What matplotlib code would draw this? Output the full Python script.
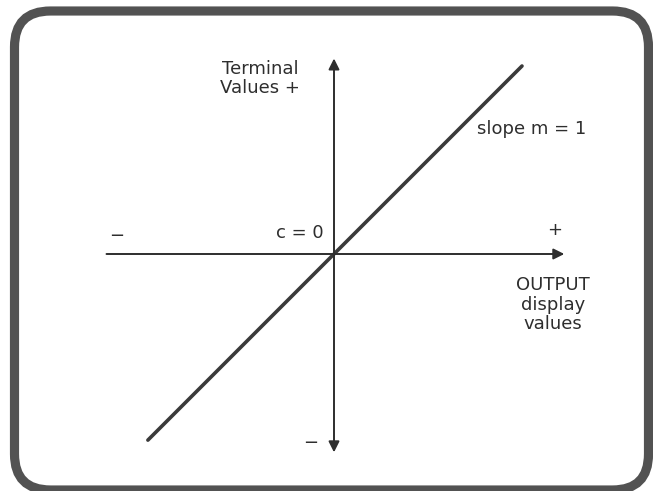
import matplotlib
matplotlib.use('Agg')
import matplotlib.pyplot as plt
from matplotlib.patches import FancyBboxPatch

plt.rcParams['font.family'] = ['DejaVu Sans']

# Line y = m*x + c, with m = 1 and c = 0
line_x = [-0.99, 1.0]
line_y = [-0.99, 1.0]

# Axis extents (output display values / terminal values)
x_axis = [-1.21, 1.225]
y_axis = [-1.055, 1.04]

ink = '#2e2e2e'

fig = plt.figure(figsize=(6.53, 4.91), dpi=100)

# Rounded screen frame, drawn in pixel space
frame_ax = fig.add_axes([0, 0, 1, 1])
frame_ax.set_xlim(0, 653)
frame_ax.set_ylim(491, 0)
frame_ax.axis('off')
frame = FancyBboxPatch((14.5, 11), 634, 479,
                       boxstyle='round,pad=0,rounding_size=36',
                       facecolor='white', edgecolor='#525252', linewidth=6.6)
frame_ax.add_patch(frame)

# Chart axes, origin at the centre crossing
ax = fig.add_axes([0, 0, 1, 1])
ax.patch.set_alpha(0)
scale = 188.0
ax.set_xlim(-334 / scale, (653 - 334) / scale)
ax.set_ylim(-(491 - 254) / scale, 254 / scale)
ax.axis('off')

# Horizontal axis (arrow at + end only)
ax.annotate('', xy=(x_axis[1], 0), xytext=(x_axis[0], 0),
            arrowprops=dict(arrowstyle='-|>', color=ink, lw=1.4,
                            mutation_scale=16, shrinkA=0, shrinkB=0))
# Vertical axis (arrows at both ends)
ax.annotate('', xy=(0, y_axis[1]), xytext=(0, y_axis[0]),
            arrowprops=dict(arrowstyle='<|-|>', color=ink, lw=1.4,
                            mutation_scale=16, shrinkA=0, shrinkB=0))

ax.plot(line_x, line_y, color='#3a3a3a', lw=2.6, solid_capstyle='round')

fs = 13
ax.text(-0.394, 0.934, 'Terminal\nValues +', ha='center', va='center',
        fontsize=fs, color=ink, linespacing=1.1)
ax.text(1.053, 0.665, 'slope m = 1', ha='center', va='center',
        fontsize=fs, color=ink)
ax.text(-0.181, 0.112, 'c = 0', ha='center', va='center',
        fontsize=fs, color=ink)
ax.text(-1.154, 0.095, '−', ha='center', va='center', fontsize=fs, color=ink)
ax.text(1.176, 0.128, '+', ha='center', va='center', fontsize=fs, color=ink)
ax.text(1.165, -0.27, 'OUTPUT\ndisplay\nvalues', ha='center', va='center',
        fontsize=fs, color=ink, linespacing=1.1)
ax.text(-0.122, -1.005, '−', ha='center', va='center', fontsize=fs, color=ink)

fig.savefig('out.png', dpi=100)
